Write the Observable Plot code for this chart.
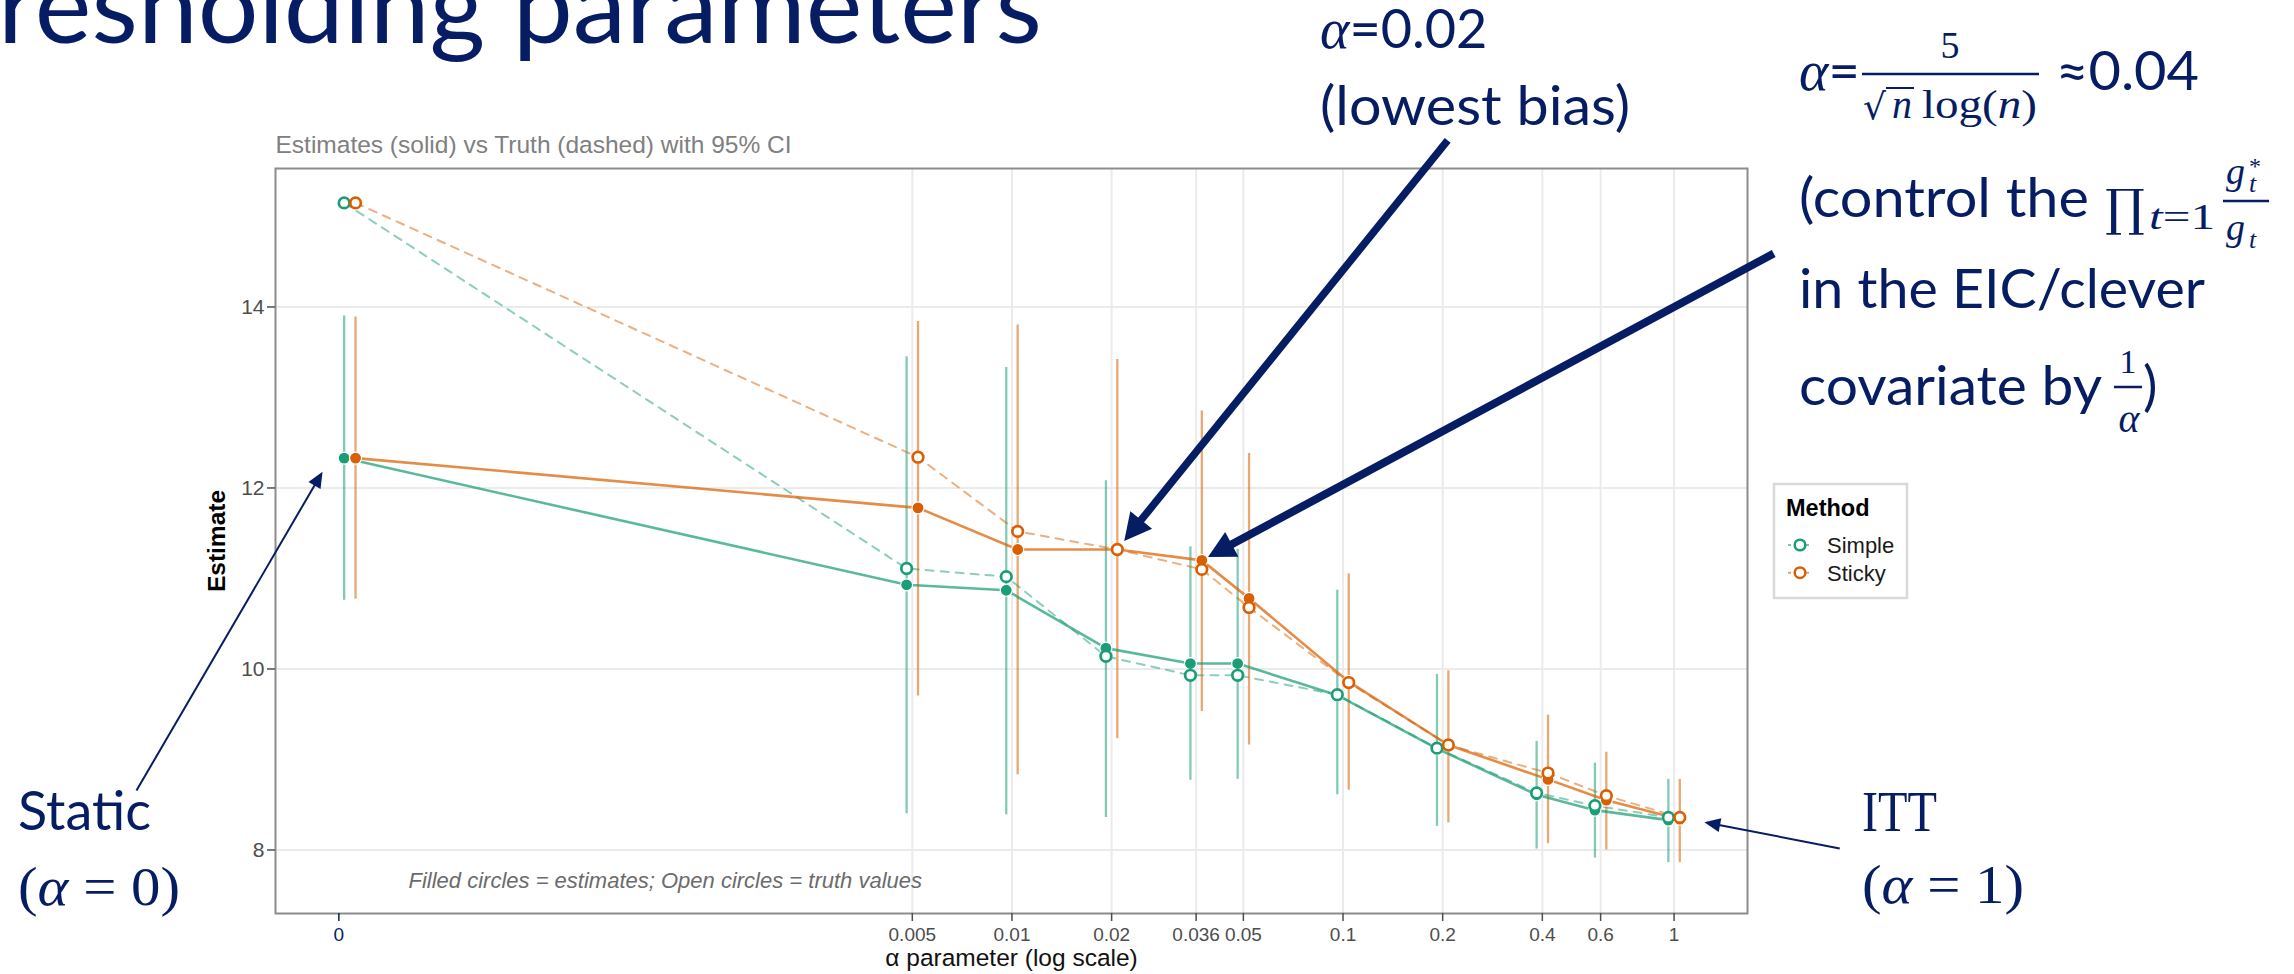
<!DOCTYPE html>
<html><head><meta charset="utf-8">
<script src="https://cdn.jsdelivr.net/npm/d3@7"></script>
<script src="https://cdn.jsdelivr.net/npm/@observablehq/plot@0.6"></script>
<style>
html,body{margin:0;padding:0;background:#fff;}
#page{position:relative;width:2294px;height:974px;overflow:hidden;background:#fff;}
#page > svg{position:absolute;left:0;top:0;}
</style></head><body><div id="page"></div>
<script>
// ---------------- data ----------------
const alphaValues     = [0, 0.005, 0.01, 0.02, 0.036, 0.05, 0.1, 0.2, 0.4, 0.6, 1];
const alphaTickLabels = ["0", "0.005", "0.01", "0.02", "0.036", "0.05", "0.1", "0.2", "0.4", "0.6", "1"];
const methods      = ["Simple", "Sticky"];
const methodColors = ["#1b9e77", "#d95f02"];

const simpleEstimate = [12.33, 10.93, 10.87, 10.23, 10.06, 10.06, 9.71, 9.12, 8.61, 8.44, 8.33];
const simpleTruth    = [15.15, 11.11, 11.02, 10.14, 9.93, 9.93, 9.715, 9.125, 8.63, 8.49, 8.36];
const simpleLower    = [10.76, 8.40, 8.39, 8.36, 8.77, 8.78, 8.61, 8.26, 8.01, 7.91, 7.86];
const simpleUpper    = [13.90, 13.45, 13.33, 12.08, 11.35, 11.32, 10.87, 9.94, 9.20, 8.96, 8.78];

const stickyEstimate = [12.33, 11.78, 11.32, 11.32, 11.20, 10.78, 9.86, 9.16, 8.78, 8.55, 8.34];
const stickyTruth    = [15.15, 12.34, 11.52, 11.32, 11.10, 10.68, 9.85, 9.16, 8.85, 8.60, 8.36];
const stickyLower    = [10.77, 9.70, 8.83, 9.23, 9.53, 9.16, 8.66, 8.30, 8.07, 8.00, 7.86];
const stickyUpper    = [13.89, 13.84, 13.80, 13.42, 12.85, 12.38, 11.05, 9.98, 9.49, 9.08, 8.78];

const yTicks = [8, 10, 12, 14];

// ---------------- settings ----------------
const NAVY = "#061c63";
const ZERO_AT = 1e-4;    // where alpha = 0 sits on the log axis
const DODGE = 5.7;       // px horizontal dodge between methods
const offsets = [-DODGE, DODGE];

const seriesData = [
  {est: simpleEstimate, truth: simpleTruth, lo: simpleLower, hi: simpleUpper},
  {est: stickyEstimate, truth: stickyTruth, lo: stickyLower, hi: stickyUpper}
];
const rows = methods.map((m, i) => alphaValues.map((a, j) => ({
  method: m, alpha: a, pos: a === 0 ? ZERO_AT : a,
  est: seriesData[i].est[j], truth: seriesData[i].truth[j],
  lo: seriesData[i].lo[j], hi: seriesData[i].hi[j]
})));

const xTickValues = alphaValues.filter(a => a > 0);
const labelOf = d => alphaTickLabels[alphaValues.indexOf(d)];

// callout arrows (start = annotation anchor, end = pointed data point)
const callouts = [
  {x1: 0.199, y1: 15.84, x2: alphaValues[3], y2: stickyTruth[3], dx: DODGE, inset: 20, w: 7.5, kind: "big"},
  {x1: 1.922, y1: 14.59, x2: alphaValues[4], y2: stickyEstimate[4], dx: DODGE, inset: 16, w: 8, kind: "big"},
  {x1: 3.042, y1: 8.017, x2: alphaValues[10], y2: stickyTruth[10], dx: DODGE, inset: 28, w: 2, kind: "thin"},
  {x1: 2.267e-5, y1: 8.657, x2: 8.27e-5, y2: 12.18, dx: 0, inset: 3, w: 2, kind: "thin"}
];

const FONT = "'Liberation Sans', Arial, sans-serif";

const marks = [
  Plot.gridX(xTickValues, {stroke: "#ebebeb", strokeOpacity: 1, strokeWidth: 2}),
  Plot.gridY(yTicks, {stroke: "#ebebeb", strokeOpacity: 1, strokeWidth: 2}),
  ...methods.map((m, i) => Plot.ruleX(rows[i], {x: "pos", y1: "lo", y2: "hi", dx: offsets[i],
      stroke: methodColors[i], strokeOpacity: 0.55, strokeWidth: 2.3})),
  ...methods.map((m, i) => Plot.line(rows[i], {x: "pos", y: "truth", dx: offsets[i],
      stroke: methodColors[i], strokeOpacity: 0.5, strokeWidth: 2, strokeDasharray: "8,7"})),
  ...methods.map((m, i) => Plot.line(rows[i], {x: "pos", y: "est", dx: offsets[i],
      stroke: methodColors[i], strokeOpacity: 0.72, strokeWidth: 2.6})),
  ...methods.map((m, i) => Plot.dot(rows[i], {x: "pos", y: "est", dx: offsets[i], r: 6,
      fill: methodColors[i], stroke: "white", strokeWidth: 1.2})),
  ...methods.map((m, i) => Plot.dot(rows[i], {x: "pos", y: "truth", dx: offsets[i], r: 5.3,
      fill: "white", stroke: methodColors[i], strokeWidth: 2.7})),
  Plot.frame({stroke: "#8c8c8c", strokeWidth: 2}),
  // x ticks (labels drawn separately so that every tick is labelled)
  Plot.axisX(xTickValues, {tickSize: 8, tickPadding: 6, fontSize: 19, color: "#4d4d4d",
      strokeWidth: 1.5, tickFormat: () => "", label: null}),
  Plot.text(xTickValues, {x: d => d, text: labelOf, frameAnchor: "bottom", dy: 14, lineAnchor: "top",
      textAnchor: "middle", fontSize: 19, fill: "#4d4d4d"}),
  Plot.axisX([ZERO_AT], {dx: -11, tickSize: 8, tickPadding: 6, fontSize: 19, color: NAVY,
      strokeWidth: 1.5, tickFormat: () => "", label: null}),
  Plot.text([ZERO_AT], {x: d => d, text: () => alphaTickLabels[0], dx: -11, frameAnchor: "bottom", dy: 14,
      lineAnchor: "top", textAnchor: "middle", fontSize: 19, fill: NAVY}),
  Plot.axisY(yTicks, {tickSize: 8, tickPadding: 3, fontSize: 21, color: "#4d4d4d",
      strokeWidth: 1.5, tickFormat: d => `${d}`, label: null}),
  Plot.text(["Estimate"], {frameAnchor: "left", dx: -58, rotate: -90, textAnchor: "middle",
      lineAnchor: "middle", fontSize: 24.5, fontWeight: "bold", fill: "#000"}),
  Plot.text(["α parameter (log scale)"], {frameAnchor: "bottom", dy: 52, lineAnchor: "bottom",
      textAnchor: "middle", fontSize: 24.5, fill: "#111"}),
  Plot.text(["Estimates (solid) vs Truth (dashed) with 95% CI"], {frameAnchor: "top-left", dy: -16,
      lineAnchor: "bottom", textAnchor: "start", fontSize: 24.5, fill: "#808080"}),
  Plot.text(["Filled circles = estimates; Open circles = truth values"], {frameAnchor: "bottom-left",
      dx: 133, dy: -26, lineAnchor: "bottom", textAnchor: "start", fontSize: 22, fontStyle: "italic", fill: "#6b6b6b"}),
  ...callouts.map(c => Plot.arrow([c], {x1: "x1", y1: "y1", x2: "x2", y2: "y2", dx: c.dx,
      stroke: NAVY, strokeWidth: c.w, headLength: 0, insetEnd: c.inset, strokeLinecap: "butt"}))
];

const svg = Plot.plot({
  width: 2294, height: 974,
  marginLeft: 275, marginRight: 547, marginTop: 168, marginBottom: 61,
  x: {type: "log", domain: [Math.pow(10, -4.2246), Math.pow(10, 0.2218)]},
  y: {domain: [7.298, 15.53]},
  style: {fontFamily: FONT, background: "white", overflow: "visible"},
  marks
});

// filled arrowheads for the callouts
const ns = "http://www.w3.org/2000/svg";
const defs = document.createElementNS(ns, "defs");
function makeMarker(id, d, refX) {
  const mk = document.createElementNS(ns, "marker");
  mk.setAttribute("id", id);
  mk.setAttribute("markerUnits", "userSpaceOnUse");
  mk.setAttribute("markerWidth", "40");
  mk.setAttribute("markerHeight", "40");
  mk.setAttribute("refX", refX);
  mk.setAttribute("refY", "0");
  mk.setAttribute("orient", "auto");
  mk.setAttribute("overflow", "visible");
  mk.style.overflow = "visible";
  const p = document.createElementNS(ns, "path");
  p.setAttribute("d", d);
  p.setAttribute("fill", NAVY);
  p.setAttribute("stroke", "none");
  mk.appendChild(p);
  defs.appendChild(mk);
}
makeMarker("head-big", "M0,-14L27,0L0,14Z", "18");
makeMarker("head-thin", "M0,-7L16,0L0,7Z", "13");
svg.insertBefore(defs, svg.firstChild);
const arrowGroups = svg.querySelectorAll('g[aria-label="arrow"]');
arrowGroups.forEach((g, k) => {
  const kind = callouts[k] ? callouts[k].kind : "thin";
  g.querySelectorAll("path").forEach(p => p.setAttribute("marker-end", `url(#head-${kind})`));
});

const page = document.getElementById("page");
page.appendChild(svg);

// ---------------- slide overlay (title, annotations, legend) ----------------
const serif = "'Liberation Serif', 'DejaVu Serif', serif";
const sans = "Lato, 'Open Sans', sans-serif";
let legend = `<rect x="1774" y="484" width="133" height="114" fill="white" stroke="#d9d9d9" stroke-width="2.5"/>
  <text x="1786" y="516" font-family="${FONT}" font-weight="bold" font-size="23.5" fill="#000">Method</text>`;
methods.forEach((m, i) => {
  const cy = 545 + i * 27.7;
  legend += `<line x1="1788" x2="1812" y1="${cy}" y2="${cy}" stroke="${methodColors[i]}" stroke-opacity="0.6" stroke-width="2" stroke-dasharray="3,3"/>
  <circle cx="1800" cy="${cy}" r="5.3" fill="white" stroke="${methodColors[i]}" stroke-width="2.5"/>
  <text x="1827" y="${cy + 8}" font-family="${FONT}" font-size="22" fill="#1a1a1a">${m}</text>`;
});

const overlay = `<svg xmlns="${ns}" width="2294" height="974" style="pointer-events:none" fill="${NAVY}">
  <text y="43" font-family="${sans}" font-size="104"><tspan x="-2" text-anchor="end">Th</tspan><tspan x="-2" textLength="1044" lengthAdjust="spacingAndGlyphs">resholding parameters</tspan></text>

  <text x="1320" y="48" font-size="54"><tspan font-family="${serif}" font-style="italic" font-size="56">α</tspan><tspan font-family="${sans}">=0.02</tspan></text>
  <text x="1320" y="125" font-family="${sans}" font-size="54" textLength="310" lengthAdjust="spacingAndGlyphs">(lowest bias)</text>

  <text x="1799" y="90" font-size="54"><tspan font-family="${serif}" font-style="italic" font-size="56">α</tspan><tspan font-family="${sans}">=</tspan></text>
  <text x="1950" y="58" text-anchor="middle" font-family="${serif}" font-size="38">5</text>
  <line x1="1862" x2="2039" y1="74" y2="74" stroke="${NAVY}" stroke-width="2.5"/>
  <text x="1863" y="119" font-family="'DejaVu Sans', sans-serif" font-size="36">√</text>
  <line x1="1886" x2="1914" y1="88" y2="88" stroke="${NAVY}" stroke-width="2"/>
  <text x="1892" y="118" font-family="${serif}" font-style="italic" font-size="40">n</text>
  <text x="1922" y="118" font-family="${serif}" font-size="40" textLength="115" lengthAdjust="spacingAndGlyphs">log(<tspan font-style="italic">n</tspan>)</text>
  <text x="2056" y="90" font-family="${sans}" font-size="54" textLength="143" lengthAdjust="spacingAndGlyphs">≈0.04</text>

  <text x="1799" y="217" font-family="${sans}" font-size="54" textLength="290" lengthAdjust="spacingAndGlyphs">(control the</text>
  <text x="2105" y="225" font-family="'DejaVu Serif', serif" font-size="50">∏</text>
  <text x="2149" y="229" font-family="${serif}" font-size="36" textLength="66" lengthAdjust="spacingAndGlyphs"><tspan font-style="italic">t</tspan>=1</text>
  <text x="2226" y="184" font-family="${serif}" font-style="italic" font-size="38">g</text>
  <text x="2249" y="174" font-family="${serif}" font-size="24">*</text>
  <text x="2249" y="192" font-family="${serif}" font-style="italic" font-size="26">t</text>
  <line x1="2223" x2="2269" y1="201" y2="201" stroke="${NAVY}" stroke-width="2.5"/>
  <text x="2226" y="240" font-family="${serif}" font-style="italic" font-size="38">g</text>
  <text x="2249" y="248" font-family="${serif}" font-style="italic" font-size="26">t</text>

  <text x="1799" y="308" font-family="${sans}" font-size="54" textLength="406" lengthAdjust="spacingAndGlyphs">in the EIC/clever</text>
  <text x="1799" y="405" font-family="${sans}" font-size="54" textLength="303" lengthAdjust="spacingAndGlyphs">covariate by</text>
  <text x="2128" y="373" text-anchor="middle" font-family="${serif}" font-size="34">1</text>
  <line x1="2114" x2="2142" y1="387" y2="387" stroke="${NAVY}" stroke-width="2.5"/>
  <text x="2129" y="432" text-anchor="middle" font-family="${serif}" font-style="italic" font-size="40">α</text>
  <text x="2143" y="405" font-family="${sans}" font-size="54">)</text>

  <text x="18" y="830" font-family="${sans}" font-size="54" textLength="133" lengthAdjust="spacingAndGlyphs">Static</text>
  <text x="18" y="905" font-family="${serif}" font-size="54" textLength="162" lengthAdjust="spacingAndGlyphs">(<tspan font-style="italic">α</tspan> = 0)</text>
  <text x="1862" y="831" font-family="${serif}" font-size="56" textLength="75" lengthAdjust="spacingAndGlyphs">ITT</text>
  <text x="1862" y="903" font-family="${serif}" font-size="54" textLength="162" lengthAdjust="spacingAndGlyphs">(<tspan font-style="italic">α</tspan> = 1)</text>
  ${legend}
</svg>`;
page.insertAdjacentHTML("beforeend", overlay);
</script>
</body></html>
